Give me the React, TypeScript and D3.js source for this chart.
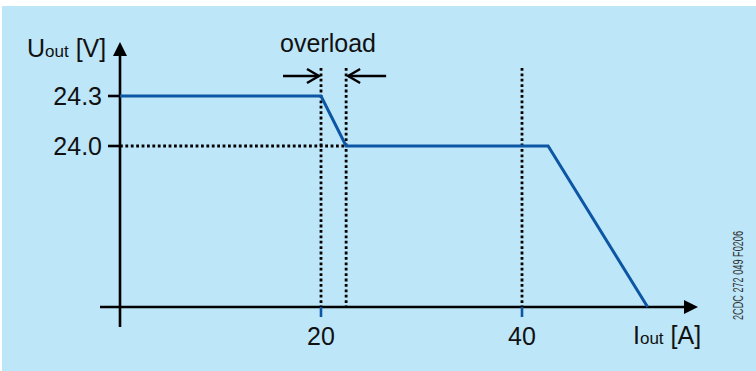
import React from "react";
import * as d3 from "d3";

const currentA = [0, 20, 22.5, 42.6, 52.5];
const voltageV = [24.3, 24.3, 24.0, 24.0, 0];
const xTicks = [20, 40];
const xTickLabels = ["20", "40"];
const yTicks = [24.3, 24.0];
const yTickLabels = ["24.3", "24.0"];
const markerX = [20, 22.5, 40];
const overloadBounds = [20, 22.5];
const refVoltage = 24.0;
const docId = "2CDC 272 049 F0206";

const W = 756;
const H = 371;
const FONT = "'Liberation Sans', Arial, Helvetica, sans-serif";
const BLUE = "#0c56a4";
const BG = "#bde6f9";

export default function App() {
  const x = d3.scaleLinear().domain([0, 40]).range([120, 522]);
  const y = d3.scaleLinear().domain([0, 24.0, 24.3]).range([307, 146, 96]);
  const x0 = x(0);
  const y0 = y(0);
  const axisRight = 698;
  const axisTop = 42;
  const markerTop = 68;

  const pts: [number, number][] = currentA.map((c, i) => [c, voltageV[i]]);
  const line = d3
    .line<[number, number]>()
    .x((d) => x(d[0]))
    .y((d) => y(d[1]));

  const arrowY = 76;
  const lx = x(overloadBounds[0]);
  const rx = x(overloadBounds[1]);

  return (
    <svg
      width={W}
      height={H}
      style={{ position: "absolute", left: 0, top: 0, display: "block" }}
      fontFamily={FONT}
    >
      <rect x={0} y={0} width={W} height={H} fill="#ffffff" />
      <rect x={2} y={6} width={W - 2} height={H - 6} fill={BG} />

      {/* dotted reference lines */}
      {markerX.map((m, i) => (
        <line
          key={"m" + i}
          x1={x(m)}
          x2={x(m)}
          y1={markerTop}
          y2={y0}
          stroke="#000"
          strokeWidth={2.8}
          strokeDasharray="2.8 2.6"
        />
      ))}
      <line
        x1={x0}
        x2={x(overloadBounds[1])}
        y1={y(refVoltage)}
        y2={y(refVoltage)}
        stroke="#000"
        strokeWidth={2.8}
        strokeDasharray="2.8 2.6"
      />

      {/* axes */}
      <line x1={100} x2={axisRight - 12} y1={y0} y2={y0} stroke="#000" strokeWidth={2.6} />
      <path
        d={`M${axisRight},${y0} L${axisRight - 14},${y0 - 7} L${axisRight - 14},${y0 + 7} Z`}
        fill="#000"
      />
      <line x1={x0} x2={x0} y1={327} y2={axisTop + 12} stroke="#000" strokeWidth={2.6} />
      <path
        d={`M${x0},${axisTop} L${x0 - 7},${axisTop + 14} L${x0 + 7},${axisTop + 14} Z`}
        fill="#000"
      />

      {/* y ticks */}
      {yTicks.map((t, i) => (
        <g key={"yt" + i}>
          <line x1={x0 - 12} x2={x0} y1={y(t)} y2={y(t)} stroke="#000" strokeWidth={2.6} />
          <text
            x={x0 - 18}
            y={y(t) + 9}
            fontSize={25}
            textAnchor="end"
            fill="#111"
          >
            {yTickLabels[i]}
          </text>
        </g>
      ))}

      {/* x ticks */}
      {xTicks.map((t, i) => (
        <g key={"xt" + i}>
          <line x1={x(t)} x2={x(t)} y1={y0} y2={y0 + 10} stroke={BLUE} strokeWidth={2.6} />
          <text x={x(t)} y={345} fontSize={25} textAnchor="middle" fill="#111">
            {xTickLabels[i]}
          </text>
        </g>
      ))}

      {/* curve */}
      <path d={line(pts) || ""} fill="none" stroke={BLUE} strokeWidth={3} strokeLinejoin="miter" />

      {/* overload arrows */}
      <g stroke="#000" strokeWidth={2.4} fill="none">
        <line x1={lx - 38} x2={lx - 2} y1={arrowY} y2={arrowY} />
        <path d={`M${lx - 14},${arrowY - 7} L${lx - 2},${arrowY} L${lx - 14},${arrowY + 7}`} />
        <line x1={rx + 2} x2={rx + 40} y1={arrowY} y2={arrowY} />
        <path d={`M${rx + 14},${arrowY - 7} L${rx + 2},${arrowY} L${rx + 14},${arrowY + 7}`} />
      </g>
      <text x={328} y={52} fontSize={25} textAnchor="middle" fill="#111">
        overload
      </text>

      {/* axis titles */}
      <text x={27} y={57} fontSize={25} fill="#111">
        U<tspan fontSize={17}>out</tspan> [V]
      </text>
      <text x={633} y={344} fontSize={25} fill="#111">
        I<tspan fontSize={17}>out</tspan> [A]
      </text>

      {/* document id */}
      <text
        transform={`translate(743,320) rotate(-90)`}
        fontSize={14.5}
        fill="#333"
        textLength={89}
        lengthAdjust="spacingAndGlyphs"
      >
        {docId}
      </text>
    </svg>
  );
}
